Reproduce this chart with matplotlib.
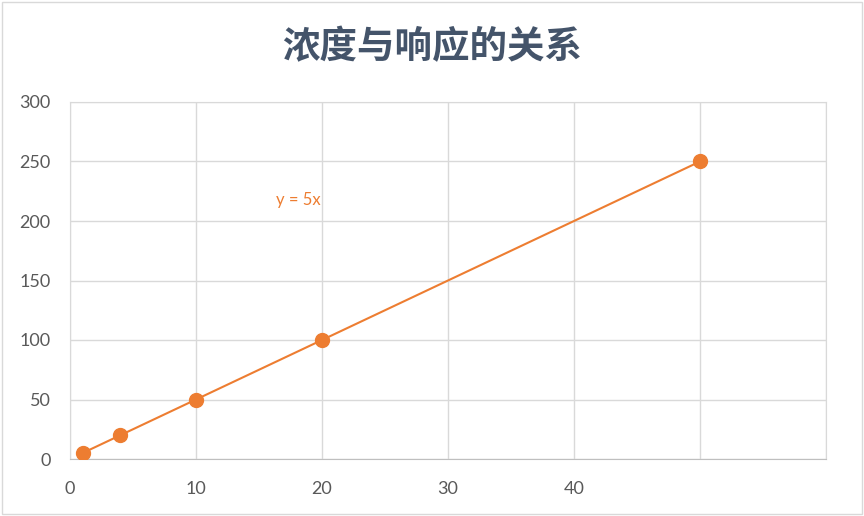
import matplotlib.pyplot as plt
import numpy as np

concentration = [1, 4, 10, 20, 50]
response = [5, 20, 50, 100, 250]
x_ticks = [0, 10, 20, 30, 40, 50, 60]
x_tick_labels = ['0', '10', '20', '30', '40', '', '']
y_ticks = [0, 50, 100, 150, 200, 250, 300]

orange = '#ED7D31'
grid_color = '#d9d9d9'
label_color = '#595959'

plt.rcParams['font.family'] = ['Lato', 'DejaVu Sans']

fig = plt.figure(figsize=(8.64, 5.16), dpi=100)
ax = fig.add_axes([70 / 864, 57 / 516, 756 / 864, 357 / 516])

# trendline from a linear fit of the data
slope, intercept = np.polyfit(concentration, response, 1)
fit_x = np.array([min(concentration), max(concentration)])
ax.plot(fit_x, slope * fit_x + intercept, color=orange, lw=1.5, zorder=3)
ax.plot(concentration, response, 'o', color=orange, markersize=10, zorder=4)

ax.text(18.1, 218, 'y = 5x', color=orange, fontsize=12, ha='center', va='center')

ax.set_xlim(0, 60)
ax.set_ylim(0, 300)
ax.set_xticks(x_ticks)
ax.set_xticklabels(x_tick_labels)
ax.set_yticks(y_ticks)
ax.tick_params(length=0, labelsize=13, colors=label_color)
ax.tick_params(axis='x', pad=16)
ax.tick_params(axis='y', pad=14)
ax.grid(color=grid_color, lw=1)
ax.set_axisbelow(True)
for side in ['top', 'right', 'left']:
    ax.spines[side].set_color(grid_color)
ax.spines['bottom'].set_color('#bfbfbf')

fig.text(0.5, 1 - 47 / 516, '浓度与响应的关系', ha='center', va='center',
         fontsize=27, color='#44546A', family=['Noto Sans CJK SC', 'DejaVu Sans'],
         fontweight='bold')

fig.patches.append(plt.Rectangle((0.002, 0.004), 0.996, 0.993, transform=fig.transFigure,
                                 fill=False, edgecolor='#d9d9d9', lw=1))

fig.savefig('out.png', dpi=100)
